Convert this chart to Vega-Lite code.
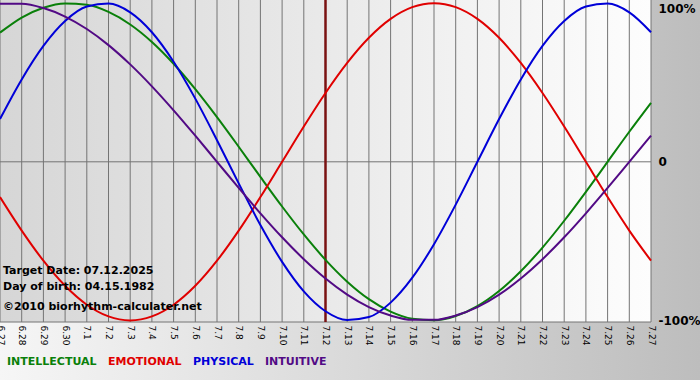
{
  "$schema": "https://vega.github.io/schema/vega-lite/v6.json",
  "width": 700,
  "height": 380,
  "autosize": {"type": "none"},
  "padding": 0,
  "background": "#d8d8d8",
  "config": {"view": {"stroke": null}, "font": "DejaVu Sans", "axis": {"labelOverlap": false}},
  "datasets": {
    "bio": [
      {"d": 0, "INTELLECTUAL": 0.8146, "EMOTIONAL": -0.2225, "PHYSICAL": 0.2698, "INTUITIVE": 0.9966},
      {"d": 1, "INTELLECTUAL": 0.9096, "EMOTIONAL": -0.4339, "PHYSICAL": 0.5196, "INTUITIVE": 0.9966},
      {"d": 2, "INTELLECTUAL": 0.9718, "EMOTIONAL": -0.6235, "PHYSICAL": 0.7308, "INTUITIVE": 0.9694},
      {"d": 3, "INTELLECTUAL": 0.9989, "EMOTIONAL": -0.7818, "PHYSICAL": 0.8879, "INTUITIVE": 0.9158},
      {"d": 4, "INTELLECTUAL": 0.9898, "EMOTIONAL": -0.9010, "PHYSICAL": 0.9791, "INTUITIVE": 0.8372},
      {"d": 5, "INTELLECTUAL": 0.9450, "EMOTIONAL": -0.9749, "PHYSICAL": 0.9977, "INTUITIVE": 0.7357},
      {"d": 6, "INTELLECTUAL": 0.8660, "EMOTIONAL": -1.0, "PHYSICAL": 0.9423, "INTUITIVE": 0.6142},
      {"d": 7, "INTELLECTUAL": 0.7557, "EMOTIONAL": -0.9749, "PHYSICAL": 0.8170, "INTUITIVE": 0.4759},
      {"d": 8, "INTELLECTUAL": 0.6182, "EMOTIONAL": -0.9010, "PHYSICAL": 0.6310, "INTUITIVE": 0.3247},
      {"d": 9, "INTELLECTUAL": 0.4582, "EMOTIONAL": -0.7818, "PHYSICAL": 0.3984, "INTUITIVE": 0.1646},
      {"d": 10, "INTELLECTUAL": 0.2817, "EMOTIONAL": -0.6235, "PHYSICAL": 0.1362, "INTUITIVE": 0.0},
      {"d": 11, "INTELLECTUAL": 0.0951, "EMOTIONAL": -0.4339, "PHYSICAL": -0.1362, "INTUITIVE": -0.1646},
      {"d": 12, "INTELLECTUAL": -0.0951, "EMOTIONAL": -0.2225, "PHYSICAL": -0.3984, "INTUITIVE": -0.3247},
      {"d": 13, "INTELLECTUAL": -0.2817, "EMOTIONAL": 0.0, "PHYSICAL": -0.6310, "INTUITIVE": -0.4759},
      {"d": 14, "INTELLECTUAL": -0.4582, "EMOTIONAL": 0.2225, "PHYSICAL": -0.8170, "INTUITIVE": -0.6142},
      {"d": 15, "INTELLECTUAL": -0.6182, "EMOTIONAL": 0.4339, "PHYSICAL": -0.9423, "INTUITIVE": -0.7357},
      {"d": 16, "INTELLECTUAL": -0.7557, "EMOTIONAL": 0.6235, "PHYSICAL": -0.9977, "INTUITIVE": -0.8372},
      {"d": 17, "INTELLECTUAL": -0.8660, "EMOTIONAL": 0.7818, "PHYSICAL": -0.9791, "INTUITIVE": -0.9158},
      {"d": 18, "INTELLECTUAL": -0.9450, "EMOTIONAL": 0.9010, "PHYSICAL": -0.8879, "INTUITIVE": -0.9694},
      {"d": 19, "INTELLECTUAL": -0.9898, "EMOTIONAL": 0.9749, "PHYSICAL": -0.7308, "INTUITIVE": -0.9966},
      {"d": 20, "INTELLECTUAL": -0.9989, "EMOTIONAL": 1.0, "PHYSICAL": -0.5196, "INTUITIVE": -0.9966},
      {"d": 21, "INTELLECTUAL": -0.9718, "EMOTIONAL": 0.9749, "PHYSICAL": -0.2698, "INTUITIVE": -0.9694},
      {"d": 22, "INTELLECTUAL": -0.9096, "EMOTIONAL": 0.9010, "PHYSICAL": 0.0, "INTUITIVE": -0.9158},
      {"d": 23, "INTELLECTUAL": -0.8146, "EMOTIONAL": 0.7818, "PHYSICAL": 0.2698, "INTUITIVE": -0.8372},
      {"d": 24, "INTELLECTUAL": -0.6901, "EMOTIONAL": 0.6235, "PHYSICAL": 0.5196, "INTUITIVE": -0.7357},
      {"d": 25, "INTELLECTUAL": -0.5406, "EMOTIONAL": 0.4339, "PHYSICAL": 0.7308, "INTUITIVE": -0.6142},
      {"d": 26, "INTELLECTUAL": -0.3717, "EMOTIONAL": 0.2225, "PHYSICAL": 0.8879, "INTUITIVE": -0.4759},
      {"d": 27, "INTELLECTUAL": -0.1893, "EMOTIONAL": 0.0, "PHYSICAL": 0.9791, "INTUITIVE": -0.3247},
      {"d": 28, "INTELLECTUAL": 0.0, "EMOTIONAL": -0.2225, "PHYSICAL": 0.9977, "INTUITIVE": -0.1646},
      {"d": 29, "INTELLECTUAL": 0.1893, "EMOTIONAL": -0.4339, "PHYSICAL": 0.9423, "INTUITIVE": 0.0},
      {"d": 30, "INTELLECTUAL": 0.3717, "EMOTIONAL": -0.6235, "PHYSICAL": 0.8170, "INTUITIVE": 0.1646}
    ]
  },
  "layer": [
    {
      "data": {"values": [{}]},
      "mark": {"type": "rect", "color": {"gradient": "linear", "x1": 0, "y1": 0, "x2": 1, "y2": 0, "stops": [{"offset": 0, "color": "#f6f6f6"}, {"offset": 1, "color": "#bdbdbd"}]}},
      "encoding": {}
    },
    {
      "data": {"values": [{}]},
      "mark": {"type": "rect", "color": {"gradient": "linear", "x1": 0, "y1": 0, "x2": 1, "y2": 0, "stops": [{"offset": 0, "color": "#d6d6d6"}, {"offset": 1, "color": "#fdfdfd"}]}},
      "encoding": {
        "x": {"datum": 0, "type": "quantitative", "scale": {"domain": [0, 32.258], "nice": false, "zero": false}},
        "x2": {"datum": 30},
        "y": {"datum": 1.0202, "type": "quantitative", "scale": {"domain": [-1.3758, 1.0202], "nice": false, "zero": false}},
        "y2": {"datum": -1.0101}
      }
    },
    {
      "data": {"name": "bio"},
      "mark": {"type": "rule", "color": "#747474", "strokeWidth": 1},
      "encoding": {
        "x": {"field": "d", "type": "quantitative", "scale": {"domain": [0, 32.258], "nice": false, "zero": false}},
        "y": {"datum": 1.0202, "type": "quantitative", "scale": {"domain": [-1.3758, 1.0202], "nice": false, "zero": false}},
        "y2": {"datum": -1.0101}
      }
    },
    {
      "data": {"values": [{}]},
      "mark": {"type": "rule", "color": "#747474", "strokeWidth": 1},
      "encoding": {
        "x": {"datum": 0, "type": "quantitative", "scale": {"domain": [0, 32.258], "nice": false, "zero": false}},
        "x2": {"datum": 30},
        "y": {"datum": 0, "type": "quantitative", "scale": {"domain": [-1.3758, 1.0202], "nice": false, "zero": false}}
      }
    },
    {
      "data": {"values": [{}]},
      "mark": {"type": "rule", "color": "#747474", "strokeWidth": 1},
      "encoding": {
        "x": {"datum": 0, "type": "quantitative", "scale": {"domain": [0, 32.258], "nice": false, "zero": false}},
        "x2": {"datum": 30},
        "y": {"datum": -1.0101, "type": "quantitative", "scale": {"domain": [-1.3758, 1.0202], "nice": false, "zero": false}}
      }
    },
    {
      "data": {"values": [{}]},
      "mark": {"type": "rule", "color": "#7a1212", "strokeWidth": 2.5},
      "encoding": {
        "x": {"datum": 15, "type": "quantitative", "scale": {"domain": [0, 32.258], "nice": false, "zero": false}},
        "y": {"datum": 1.0202, "type": "quantitative", "scale": {"domain": [-1.3758, 1.0202], "nice": false, "zero": false}},
        "y2": {"datum": -1.0101}
      }
    },
    {
      "data": {"name": "bio"},
      "transform": [{"fold": ["INTELLECTUAL", "EMOTIONAL", "PHYSICAL", "INTUITIVE"], "as": ["s", "v"]}],
      "mark": {"type": "line", "interpolate": "monotone", "strokeWidth": 2},
      "encoding": {
        "x": {
          "field": "d", "type": "quantitative",
          "scale": {"domain": [0, 32.258], "nice": false, "zero": false},
          "axis": {
            "title": null, "offset": -58, "grid": false, "ticks": false, "domain": false, "zindex": 2,
            "tickCount": 33, "tickMinStep": 1,
            "labelExpr": "datum.value > 30 ? '' : (datum.value <= 3 ? '6.' + (27 + datum.value) : '7.' + (datum.value - 3))",
            "labelAngle": 90, "labelAlign": "left", "labelBaseline": "middle", "labelPadding": 3,
            "labelFont": "DejaVu Sans", "labelFontSize": 9, "labelColor": "#000000",
            "labelOverlap": false, "labelFlush": false, "labelBound": false, "labelSeparation": 0
          }
        },
        "y": {
          "field": "v", "type": "quantitative",
          "scale": {"domain": [-1.3758, 1.0202], "nice": false, "zero": false},
          "axis": {
            "title": null, "orient": "right", "offset": -49, "grid": false, "ticks": false, "domain": false, "zindex": 2,
            "values": [-1, 0, 1],
            "labelExpr": "datum.value == 1 ? '100%' : (datum.value == 0 ? '0' : '-100%')",
            "labelAlign": "left", "labelPadding": 7,
            "labelBaseline": {"condition": {"test": "datum.value == 1", "value": "top"}, "value": "middle"},
            "labelFont": "DejaVu Sans", "labelFontSize": 12, "labelFontWeight": "bold", "labelColor": "#000000",
            "labelOverlap": false, "labelFlush": false, "labelBound": false
          }
        },
        "color": {
          "field": "s", "type": "nominal",
          "scale": {"domain": ["INTELLECTUAL", "EMOTIONAL", "PHYSICAL", "INTUITIVE"], "range": ["#0a800a", "#e00000", "#0000d8", "#520a85"]},
          "legend": {
            "orient": "none", "legendX": -4, "legendY": 356, "direction": "horizontal", "columns": 4, "title": null,
            "symbolType": "circle", "symbolSize": 0.01, "symbolOpacity": 0, "symbolStrokeWidth": 0, "labelOffset": 0, "columnPadding": -1,
            "labelFont": "DejaVu Sans", "labelFontSize": 11, "labelFontWeight": "bold",
            "encode": {"labels": {"update": {"fill": {"scale": "color", "field": "value"}}}}
          }
        }
      }
    },
    {
      "data": {"values": [{}]},
      "mark": {"type": "text", "align": "left", "baseline": "middle", "dx": 3, "font": "DejaVu Sans", "fontSize": 11, "fontWeight": "bold", "color": "#000000"},
      "encoding": {
        "x": {"datum": 0, "type": "quantitative", "scale": {"domain": [0, 32.258], "nice": false, "zero": false}},
        "y": {"datum": -0.6885, "type": "quantitative", "scale": {"domain": [-1.3758, 1.0202], "nice": false, "zero": false}},
        "text": {"value": "Target Date: 07.12.2025"}
      }
    },
    {
      "data": {"values": [{}]},
      "mark": {"type": "text", "align": "left", "baseline": "middle", "dx": 3, "font": "DejaVu Sans", "fontSize": 11, "fontWeight": "bold", "color": "#000000"},
      "encoding": {
        "x": {"datum": 0, "type": "quantitative", "scale": {"domain": [0, 32.258], "nice": false, "zero": false}},
        "y": {"datum": -0.7894, "type": "quantitative", "scale": {"domain": [-1.3758, 1.0202], "nice": false, "zero": false}},
        "text": {"value": "Day of birth: 04.15.1982"}
      }
    },
    {
      "data": {"values": [{}]},
      "mark": {"type": "text", "align": "left", "baseline": "middle", "dx": 3, "font": "DejaVu Sans", "fontSize": 11, "fontWeight": "bold", "color": "#000000"},
      "encoding": {
        "x": {"datum": 0, "type": "quantitative", "scale": {"domain": [0, 32.258], "nice": false, "zero": false}},
        "y": {"datum": -0.9155, "type": "quantitative", "scale": {"domain": [-1.3758, 1.0202], "nice": false, "zero": false}},
        "text": {"value": "©2010 biorhythm-calculater.net"}
      }
    }
  ]
}
